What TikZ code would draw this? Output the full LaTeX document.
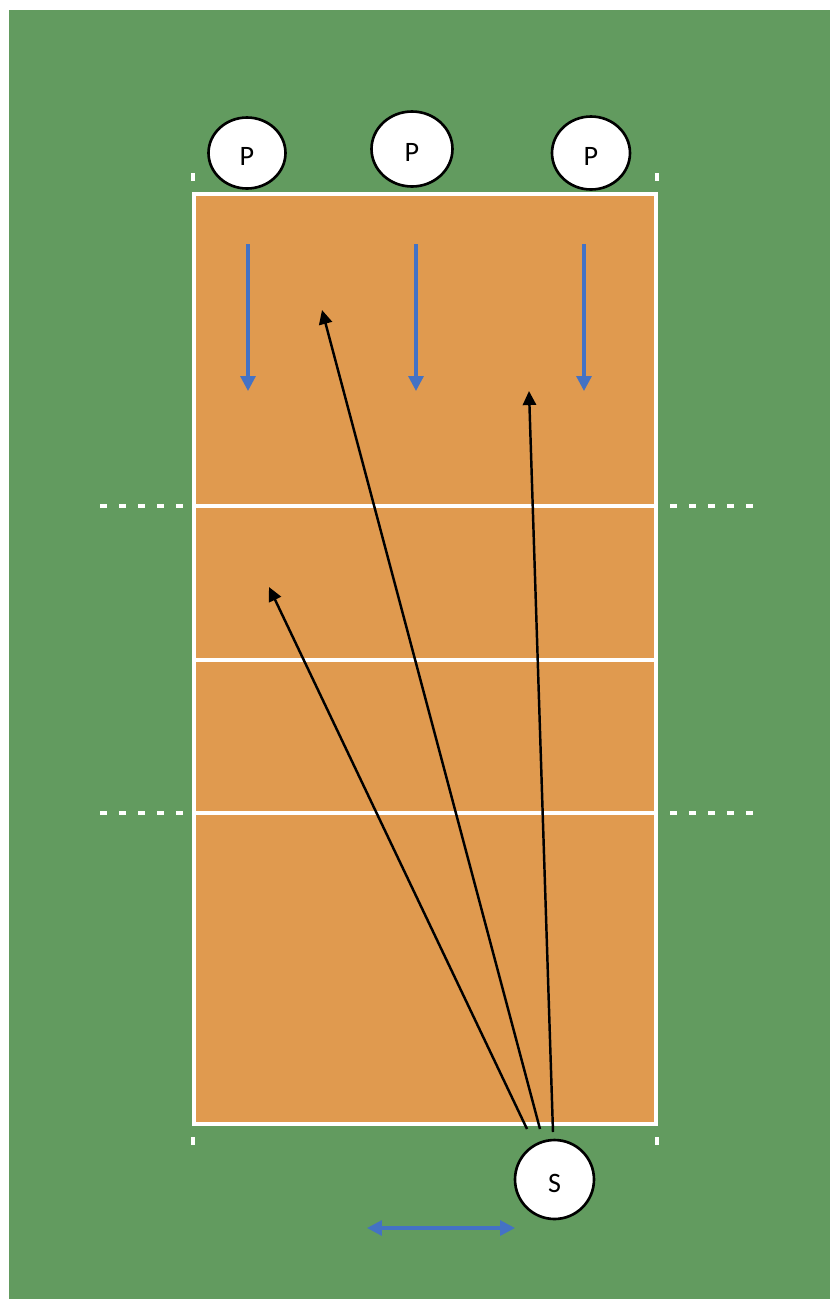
\documentclass[tikz,border=0pt]{standalone}
\usepackage{fontspec}
\setmainfont{Carlito}
\usetikzlibrary{arrows.meta,shapes.geometric}
\definecolor{grass}{HTML}{629B5F}
\definecolor{courtfill}{HTML}{E09A4F}
\definecolor{movecol}{HTML}{4472C4}
\begin{document}
\begin{tikzpicture}[x=0.02cm,y=-0.02cm,
    player/.style={ellipse,draw=black,line width=1.5pt,fill=white,inner sep=0pt,
      font=\fontsize{16}{19}\selectfont,text height=14.5pt,text depth=0pt},
    shot/.style={draw=black,line width=1.4pt,-{Triangle[length=8pt,width=7.5pt]}},
    runarrow/.style={draw=movecol,line width=1.8pt,-{Triangle[length=8.5pt,width=8.5pt]}},
    shuffle/.style={draw=movecol,line width=1.8pt,{Triangle[length=8.5pt,width=8.5pt]}-{Triangle[length=8.5pt,width=8.5pt]}},
    courtline/.style={draw=white,line width=2.4pt},
    attackline/.style={draw=white,line width=2.8pt,dash pattern=on 4pt off 6.8pt}]
  % Fondo
  \useasboundingbox (0,0) rectangle (830,1299);
  \fill[white] (0,0) rectangle (830,1299);
  \fill[grass] (9,10) rectangle (830,1299);

  % Cancha
  \filldraw[courtfill,courtline] (194,194) rectangle (656,1124);
  \draw[courtline] (194,506) -- (656,506);
  \draw[courtline] (194,660) -- (656,660);
  \draw[courtline] (194,813) -- (656,813);

  % Lineas de ataque prolongadas
  \draw[attackline] (100,506) -- (183,506);
  \draw[attackline] (100,813) -- (183,813);
  \draw[attackline] (670,506) -- (753,506);
  \draw[attackline] (670,813) -- (753,813);

  % Marcas de las esquinas
  \fill[white] (191,173) rectangle (195,181);
  \fill[white] (655,173) rectangle (659,181);
  \fill[white] (191,1137) rectangle (195,1145);
  \fill[white] (655,1137) rectangle (659,1145);

  % Jugadores
  \node[player,minimum width=1.54cm,minimum height=1.42cm] (p1) at (247,153) {P};
  \node[player,minimum width=1.62cm,minimum height=1.5cm] (p2) at (412,149) {P};
  \node[player,minimum width=1.56cm,minimum height=1.46cm] (p3) at (591,153) {P};
  \node[player,circle,minimum size=1.58cm] (s) at (554.5,1179.5) {S};

  % Desplazamientos de los receptores
  \coordinate (p1a) at (248,244); \coordinate (p1b) at (248,391);
  \coordinate (p2a) at (416,244); \coordinate (p2b) at (416,391);
  \coordinate (p3a) at (584,244); \coordinate (p3b) at (584,391);
  \draw[runarrow] (p1a) -- (p1b);
  \draw[runarrow] (p2a) -- (p2b);
  \draw[runarrow] (p3a) -- (p3b);

  % Saques
  \coordinate (s1) at (527,1129); \coordinate (t1) at (269,587);
  \coordinate (s2) at (540,1129); \coordinate (t2) at (322,310);
  \coordinate (s3) at (553,1132); \coordinate (t3) at (529,391);
  \draw[shot] (s1) -- (t1);
  \draw[shot] (s2) -- (t2);
  \draw[shot] (s3) -- (t3);

  % Zona de saque
  \coordinate (za) at (367,1228); \coordinate (zb) at (515,1228);
  \draw[shuffle] (za) -- (zb);
\end{tikzpicture}
\end{document}
